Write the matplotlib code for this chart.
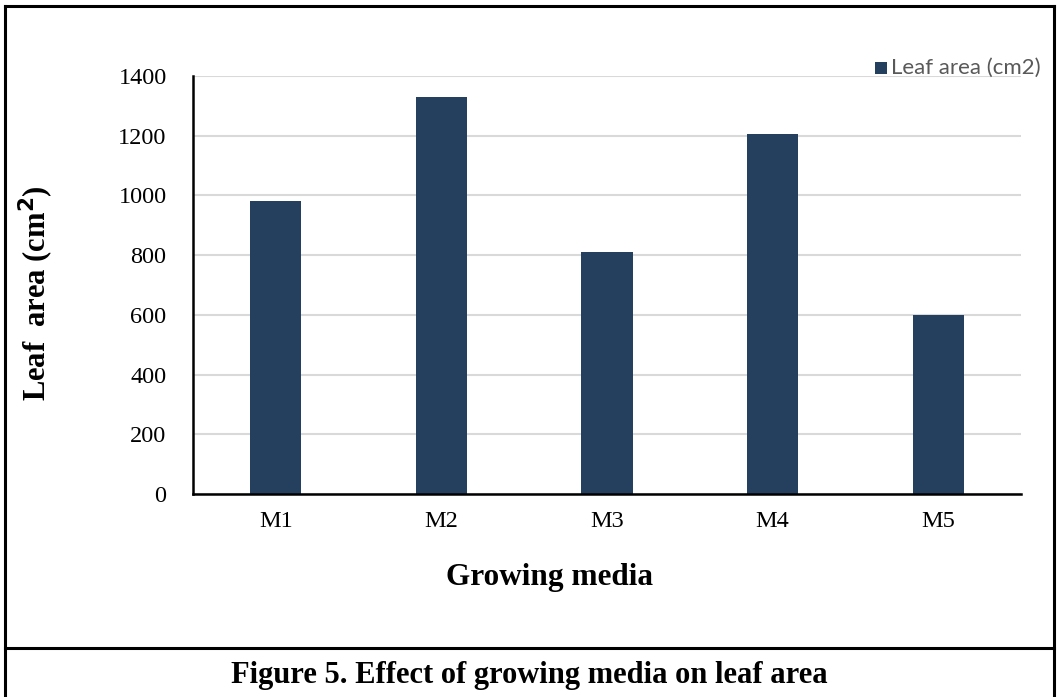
import matplotlib
matplotlib.use("Agg")
import matplotlib.pyplot as plt
from matplotlib.lines import Line2D
from matplotlib.patches import Rectangle

# Leaf area per growing medium
media = ["M1", "M2", "M3", "M4", "M5"]
leaf_area = [981, 1330, 811, 1206, 598]
y_ticks = [0, 200, 400, 600, 800, 1000, 1200, 1400]

bar_color = "#253F5F"
serif = "Liberation Serif"
W, H = 1057, 697

fig = plt.figure(figsize=(W / 100, H / 100), dpi=100)
ax = fig.add_axes([193 / W, 1 - 494 / H, (1021 - 193) / W, (494 - 76) / H])

x = range(len(media))
ax.bar(x, leaf_area, width=0.31, color=bar_color, zorder=3)

ax.set_xlim(-0.5, len(media) - 0.5)
ax.set_ylim(0, 1400)
ax.set_yticks(y_ticks)
ax.set_yticklabels([str(v) for v in y_ticks], fontfamily=serif, fontsize=17.5)
ax.set_xticks(list(x))
ax.set_xticklabels(media, fontfamily=serif, fontsize=17.5)
ax.tick_params(axis="both", length=0)
ax.tick_params(axis="y", pad=19)
ax.tick_params(axis="x", pad=12)

ax.grid(axis="y", color="#D9D9D9", linewidth=1.5, zorder=0)
for side in ("top", "right"):
    ax.spines[side].set_visible(False)
for side in ("left", "bottom"):
    ax.spines[side].set_linewidth(1.8)
    ax.spines[side].set_zorder(4)

# Axis titles
fig.text(549 / W, 1 - 578 / H, "Growing media", fontfamily=serif, fontsize=22.5,
         fontweight="bold", ha="center", va="center")
fig.text(36 / W, 1 - 293 / H, "Leaf  area (cm$^\\mathbf{2}$)", fontfamily=serif, fontsize=22,
         fontweight="bold", ha="center", va="center", rotation=90)

# Legend entry in the upper right
fig.patches.append(Rectangle((875 / W, 1 - 74 / H), 12 / W, 12 / H,
                             transform=fig.transFigure, facecolor=bar_color, edgecolor="none"))
fig.text(891 / W, 1 - 68 / H, "Leaf area (cm2)", fontfamily="Lato", fontsize=16,
         color="#595959", va="center", ha="left")

# Frame around figure and caption
lw = 2.2
frame = [((5, 5), (6, H)), ((5, W - 3), (6, 6)), ((W - 3, W - 3), (6, H)), ((5, W - 3), (648, 648))]
for xs, ys in frame:
    fig.add_artist(Line2D([xs[0] / W, xs[1] / W], [1 - ys[0] / H, 1 - ys[1] / H],
                          transform=fig.transFigure, color="black", linewidth=lw))

fig.text(529 / W, 1 - 676 / H, "Figure 5. Effect of growing media on leaf area",
         fontfamily=serif, fontsize=22, fontweight="bold", ha="center", va="center")

fig.savefig("out.png", dpi=100)
